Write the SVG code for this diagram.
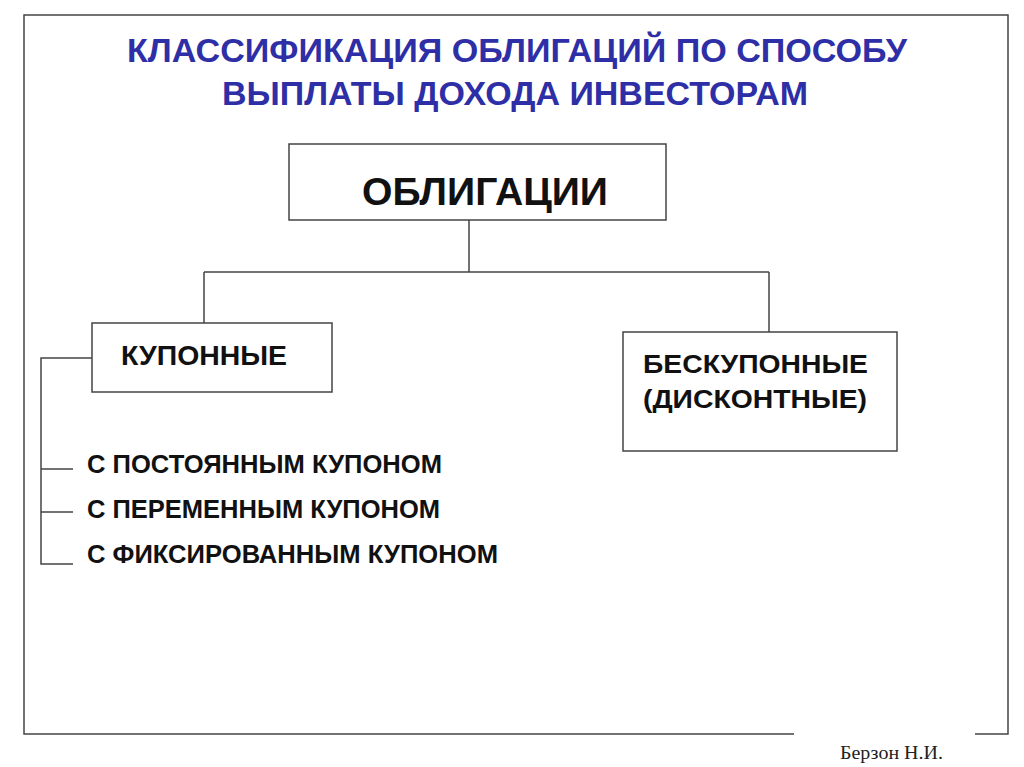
<svg xmlns="http://www.w3.org/2000/svg" width="1024" height="767" viewBox="0 0 1024 767">
<style>
.box{fill:#fff;stroke:#444;stroke-width:1.5}
.ln{fill:none;stroke:#444;stroke-width:1.5}
.title{font-family:"Liberation Sans",Arial,sans-serif;font-weight:bold;font-size:34px;fill:#2e2fa6}
.lbl{font-family:"Liberation Sans",Arial,sans-serif;font-weight:bold;fill:#111}
.foot{font-family:"Liberation Serif","Times New Roman",serif;font-size:18px;fill:#222}
</style>
<rect width="1024" height="767" fill="#fff"/>
<g id="frame">
<path class="ln" d="M794,734 H24 V15 H1008 V734 H975"/>
</g>
<g id="title">
<text class="title" x="127" y="62" textLength="780" lengthAdjust="spacingAndGlyphs">КЛАССИФИКАЦИЯ ОБЛИГАЦИЙ ПО СПОСОБУ</text>
<text class="title" x="222" y="105" font-size="35" textLength="586" lengthAdjust="spacingAndGlyphs">ВЫПЛАТЫ ДОХОДА ИНВЕСТОРАМ</text>
</g>
<g id="connectors">
<path class="ln" d="M469,220 V272 M204,272 H769 M204,272 V323 M769,272 V332"/>
<path class="ln" d="M92,358 H41 V564 H73 M41,469 H73 M41,512 H73"/>
</g>
<g id="node-obligacii">
<rect class="box" x="289" y="144" width="377" height="76"/>
<text class="lbl" x="362" y="205" font-size="39" textLength="246" lengthAdjust="spacingAndGlyphs">ОБЛИГАЦИИ</text>
</g>
<g id="node-kuponnye">
<rect class="box" x="92" y="323" width="240" height="69"/>
<text class="lbl" x="121" y="365" font-size="27" textLength="166" lengthAdjust="spacingAndGlyphs">КУПОННЫЕ</text>
</g>
<g id="node-beskuponnye">
<rect class="box" x="623" y="332" width="274" height="119"/>
<text class="lbl" x="643" y="373" font-size="25" textLength="225" lengthAdjust="spacingAndGlyphs">БЕСКУПОННЫЕ</text>
<text class="lbl" x="643" y="408" font-size="25" textLength="224" lengthAdjust="spacingAndGlyphs">(ДИСКОНТНЫЕ)</text>
</g>
<g id="node-sub1">
<text class="lbl" x="87" y="473" font-size="25" textLength="355" lengthAdjust="spacingAndGlyphs">С ПОСТОЯННЫМ КУПОНОМ</text>
</g>
<g id="node-sub2">
<text class="lbl" x="87" y="518" font-size="25" textLength="353" lengthAdjust="spacingAndGlyphs">С ПЕРЕМЕННЫМ КУПОНОМ</text>
</g>
<g id="node-sub3">
<text class="lbl" x="87" y="563" font-size="25" textLength="411" lengthAdjust="spacingAndGlyphs">С ФИКСИРОВАННЫМ КУПОНОМ</text>
</g>
<g id="footer">
<text class="foot" x="840" y="759" textLength="103" lengthAdjust="spacingAndGlyphs">Берзон Н.И.</text>
</g>
</svg>
